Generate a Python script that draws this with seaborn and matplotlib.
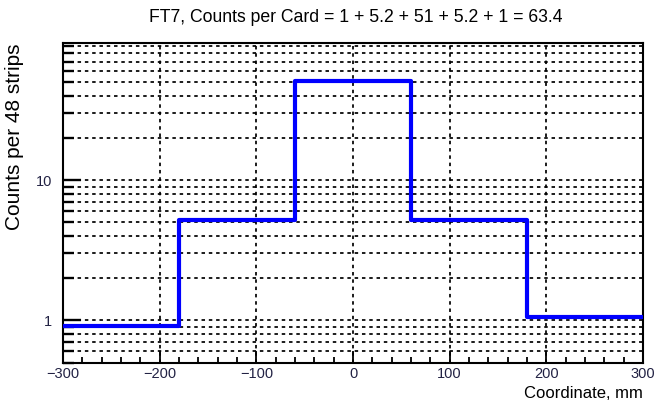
import numpy as np
import pandas as pd
import matplotlib
matplotlib.use("Agg")
import matplotlib.pyplot as plt
import seaborn as sns
from matplotlib.ticker import LogLocator, MultipleLocator, NullFormatter, FixedLocator

# Data
bin_edges = [-300, -180, -60, 60, 180, 300]
counts = [0.91, 5.2, 51, 5.2, 1.05]
title = "FT7, Counts per Card = 1 + 5.2 + 51 + 5.2 + 1 = 63.4"
x_label = "Coordinate, mm"
y_label = "Counts per 48 strips"
x_ticks = [-300, -200, -100, 0, 100, 200, 300]
x_tick_labels = ["\u2212300", "\u2212200", "\u2212100", "0", "100", "200", "300"]

sns.set_theme(style="white")
plt.rcParams["font.family"] = ["Liberation Sans", "DejaVu Sans"]
plt.rcParams["text.color"] = "black"
plt.rcParams["axes.labelcolor"] = "black"

df = pd.DataFrame({"x": bin_edges, "y": counts + [counts[-1]]})

fig = plt.figure(figsize=(6.62, 4.09), dpi=100)
ax = fig.add_axes([63 / 662, 1 - 362.5 / 409, 580 / 662, 319.5 / 409])

ax.set_yscale("log")
sns.lineplot(data=df, x="x", y="y", ax=ax, drawstyle="steps-post",
             color="#0000ff", linewidth=3.0, zorder=3, estimator=None, sort=False)

ax.set_xlim(-300, 300)
ax.set_ylim(0.5, 95)

ax.xaxis.set_major_locator(FixedLocator(x_ticks))
ax.set_xticklabels(x_tick_labels)
ax.xaxis.set_minor_locator(MultipleLocator(20))
ax.yaxis.set_major_locator(LogLocator(base=10, subs=(1.0,)))
ax.yaxis.set_minor_locator(LogLocator(base=10, subs=np.arange(2, 10), numticks=20))
ax.yaxis.set_minor_formatter(NullFormatter())
ax.set_yticks([1, 10])
ax.set_yticklabels(["1", "10"])

ax.tick_params(axis="both", which="both", direction="in", color="black",
               labelcolor="#222244", labelsize=10.5, top=False, right=False,
               bottom=True, left=True)
ax.tick_params(axis="x", which="major", length=9, width=1.3, pad=3)
ax.tick_params(axis="x", which="minor", length=4.5, width=1.3)
ax.tick_params(axis="y", which="major", length=13, width=1.7, pad=8)
ax.tick_params(axis="y", which="minor", length=8, width=1.7)

grid_style = dict(color="black", linestyle=(0, (2.0, 2.2)), linewidth=1.25)
ax.grid(True, axis="x", which="major", **grid_style)
ax.grid(True, axis="y", which="both", **grid_style)
ax.set_axisbelow(True)

for s in ax.spines.values():
    s.set_color("black")
    s.set_linewidth(1.5)

ax.set_xlabel(x_label, fontsize=12, loc="right", labelpad=4)
ax.set_ylabel(y_label, fontsize=15, loc="top", labelpad=8)
fig.text(356 / 662, 1 - 18 / 409, title, ha="center", va="center", fontsize=12.7)

fig.savefig("out.png", dpi=100)
